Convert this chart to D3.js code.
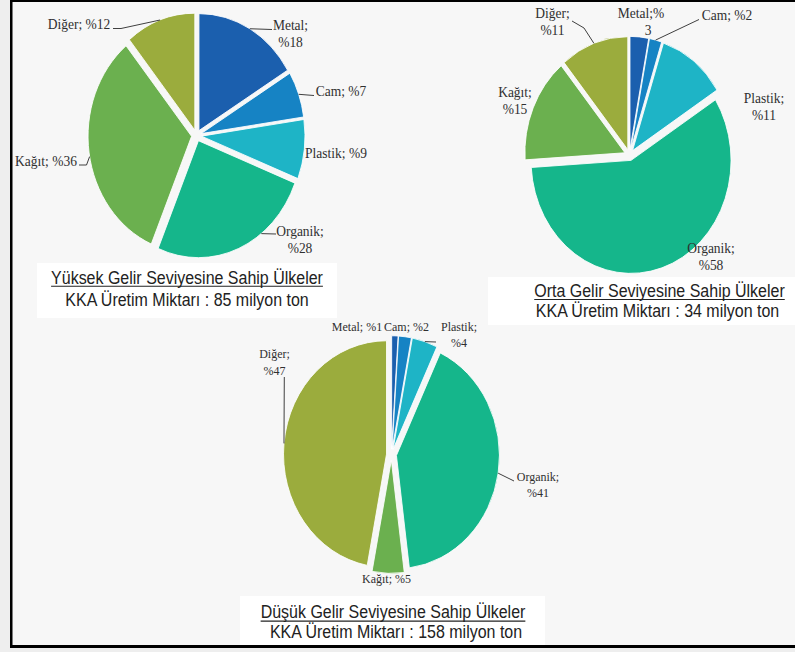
<!DOCTYPE html>
<html>
<head>
<meta charset="utf-8">
<script src="https://cdn.jsdelivr.net/npm/d3@7"></script>
<style>
  html, body { margin: 0; padding: 0; background: #eeeeee; }
  svg { display: block; }
</style>
</head>
<body>
<svg id="chart" width="795" height="652"></svg>
<script>
// Waste composition (%) by income group, clockwise from 12 o'clock
const categories = ["Metal", "Cam", "Plastik", "Organik", "Kağıt", "Diğer"];
const highIncome = [18, 7, 9, 28, 36, 12];
const middleIncome = [3, 2, 11, 58, 15, 11];
const lowIncome = [1, 2, 4, 41, 5, 47];

const groupTitles = [
  "Yüksek Gelir Seviyesine Sahip Ülkeler",
  "Orta Gelir Seviyesine Sahip Ülkeler",
  "Düşük Gelir Seviyesine Sahip Ülkeler"
];
const groupTotals = [85, 34, 158];

const sliceColors = ["#1b5fae", "#1683c4", "#1eb4c6", "#15b68b", "#6bb04f", "#9bac3d"];

// Layout of each pie and its labels
const pieLayouts = [
  {
    values: highIncome, cx: 196.5, cy: 135.5, r: 103.5, k: 1.13, fontSize: 13.5,
    box: [37, 263, 300, 55], title: [187, 283.5], sub: [187, 305.5],
    labels: [
      { x: 290.5, y: 29.5, wrap: "space", leader: [[272, 29.5]] },
      { x: 341, y: 95.5, wrap: "none", leader: [[314, 95.5]] },
      { x: 336, y: 158, wrap: "none" },
      { x: 300, y: 236, wrap: "space", leader: [[276, 234]], angle: 142.6 },
      { x: 46, y: 165.5, wrap: "none", leader: [[79, 165], [86.5, 165]], angle: 260 },
      { x: 79, y: 29, wrap: "none", leader: [[113, 28.5], [121, 28.5]] }
    ]
  },
  {
    values: middleIncome, cx: 629.5, cy: 155, r: 100, k: 1.13, fontSize: 13.5,
    box: [488, 277, 307, 48], title: [659.5, 296.7], sub: [657.5, 316.7],
    labels: [
      { x: 641, y: 18.3, wrap: "pct", dx2: 7 },
      { x: 727, y: 20, wrap: "none", leader: [[699, 19.5]] },
      { x: 764, y: 103, wrap: "space" },
      { x: 711, y: 253, wrap: "space" },
      { x: 515, y: 96.7, wrap: "space" },
      { x: 552.5, y: 18.3, wrap: "space", leader: [[572, 21], [584, 28]] }
    ]
  },
  {
    values: lowIncome, cx: 391.5, cy: 454.6, r: 103, k: 1.1, fontSize: 12,
    box: [240, 596, 305, 49], title: [393, 618.3], sub: [396, 638.3],
    labels: [
      { x: 357, y: 330.7, wrap: "none" },
      { x: 406.5, y: 330.7, wrap: "none" },
      { x: 459, y: 330.7, wrap: "space", leader: [[436, 342]] },
      { x: 538, y: 480.7, wrap: "space", leader: [[514, 481]] },
      { x: 386.5, y: 583.3, wrap: "none" },
      { x: 274.5, y: 358.3, wrap: "space", leader: [[284.3, 377]] }
    ]
  }
];

const explode = 5;
const lineHeight = 17;

const svg = d3.select("#chart");

// Page background and frame
svg.append("rect").attr("x", 10).attr("y", 0).attr("width", 785).attr("height", 648)
  .attr("fill", "#f7f7f7");

const pie = d3.pie().sort(null).value(d => d).startAngle(0).endAngle(2 * Math.PI);

function labelLines(cat, v, wrap) {
  if (wrap === "space") return [cat + ";", "%" + v];
  if (wrap === "pct") return [cat + ";%", String(v)];
  return [cat + "; %" + v];
}

pieLayouts.forEach(L => {
  const arcs = pie(L.values);
  const arc = d3.arc().innerRadius(0).outerRadius(L.r);

  // caption background
  svg.append("rect")
    .attr("x", L.box[0]).attr("y", L.box[1])
    .attr("width", L.box[2]).attr("height", L.box[3])
    .attr("fill", "#ffffff");

  const g = svg.append("g")
    .attr("transform", `translate(${L.cx},${L.cy}) scale(1,${L.k})`);

  g.selectAll("path")
    .data(arcs)
    .join("path")
    .attr("d", arc)
    .attr("transform", d => {
      const b = (d.startAngle + d.endAngle) / 2;
      return `translate(${explode * Math.sin(b)},${-explode * Math.cos(b)})`;
    })
    .attr("fill", (d, i) => sliceColors[i])
    .attr("stroke", "#ffffff")
    .attr("stroke-width", 0.8);

  // point on a slice's outer edge, in page coordinates
  function edgePoint(d, angleDeg) {
    const b = (d.startAngle + d.endAngle) / 2;
    const a = angleDeg == null ? b : angleDeg * Math.PI / 180;
    const x = L.r * Math.sin(a) + explode * Math.sin(b);
    const y = -(L.r * Math.cos(a) + explode * Math.cos(b));
    return [L.cx + x, L.cy + y * L.k];
  }

  // leader lines
  L.labels.forEach((lab, i) => {
    if (!lab.leader) return;
    const pts = lab.leader.concat([edgePoint(arcs[i], lab.angle)]);
    svg.append("path")
      .attr("d", d3.line()(pts))
      .attr("fill", "none")
      .attr("stroke", "#2a2a2a")
      .attr("stroke-width", 0.9);
  });

  // data labels
  L.labels.forEach((lab, i) => {
    const lines = labelLines(categories[i], L.values[i], lab.wrap);
    lines.forEach((t, j) => {
      const x = lab.x + (j > 0 && lab.dx2 ? lab.dx2 : 0);
      const y = lab.y + j * (L.fontSize === 12 ? 16.6 : lineHeight);
      svg.append("text")
        .attr("transform", `translate(${x},${y}) scale(1,1.05)`)
        .attr("text-anchor", "middle")
        .attr("font-family", "'Liberation Serif', 'Times New Roman', serif")
        .attr("font-size", L.fontSize)
        .attr("fill", "#303030")
        .text(t);
    });
  });
});

// captions
pieLayouts.forEach((L, i) => {
  const t = svg.append("text")
    .attr("transform", `translate(${L.title[0]},${L.title[1]}) scale(1,1.12)`)
    .attr("text-anchor", "middle")
    .attr("font-family", "'Liberation Sans', Arial, sans-serif")
    .attr("font-size", 16)
    .attr("fill", "#222222")
    .text(groupTitles[i]);
  const w = t.node().getComputedTextLength();
  svg.append("line")
    .attr("x1", L.title[0] - w / 2).attr("x2", L.title[0] + w / 2)
    .attr("y1", L.title[1] + 2.8).attr("y2", L.title[1] + 2.8)
    .attr("stroke", "#222222").attr("stroke-width", 1.1);

  svg.append("text")
    .attr("transform", `translate(${L.sub[0]},${L.sub[1]}) scale(1,1.12)`)
    .attr("text-anchor", "middle")
    .attr("font-family", "'Liberation Sans', Arial, sans-serif")
    .attr("font-size", 16)
    .attr("fill", "#222222")
    .text(`KKA Üretim Miktarı : ${groupTotals[i]} milyon ton`);
});

// frame lines
svg.append("rect").attr("x", 10).attr("y", 0).attr("width", 785).attr("height", 2).attr("fill", "#000");
svg.append("rect").attr("x", 10).attr("y", 0).attr("width", 2.5).attr("height", 648).attr("fill", "#000");
svg.append("rect").attr("x", 10).attr("y", 645).attr("width", 785).attr("height", 3).attr("fill", "#000");
</script>
</body>
</html>
